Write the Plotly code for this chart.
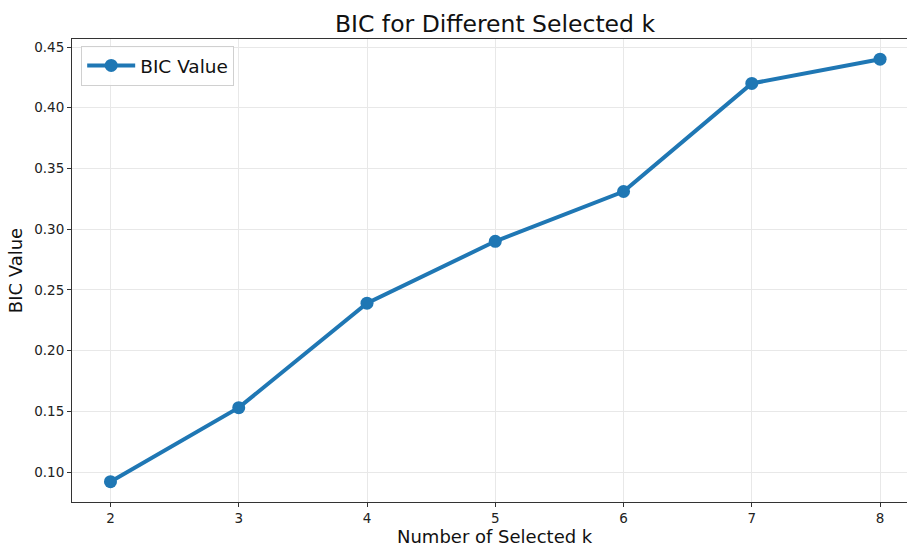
import plotly.graph_objects as go

k_values = [2, 3, 4, 5, 6, 7, 8]
bic_values = [0.092, 0.153, 0.239, 0.290, 0.331, 0.420, 0.440]
y_ticks = [0.10, 0.15, 0.20, 0.25, 0.30, 0.35, 0.40, 0.45]

fig = go.Figure()
fig.add_trace(go.Scatter(
    x=k_values, y=bic_values, mode="lines+markers", name="BIC Value",
    line=dict(color="#1f77b4", width=4),
    marker=dict(color="#1f77b4", size=13),
))

font = "DejaVu Sans, Liberation Sans, sans-serif"
fig.update_layout(
    width=908, height=544,
    margin=dict(l=72, r=1, t=39, b=42, autoexpand=False),
    paper_bgcolor="white", plot_bgcolor="white",
    font=dict(family=font, color="#222"),
    title=dict(text="BIC for Different Selected k", x=495/908, xanchor="center",
               y=1-24/544, yanchor="middle", font=dict(size=23.5, color="#111")),
    showlegend=True,
    legend=dict(x=0.011, y=0.985, xanchor="left", yanchor="top",
                bgcolor="rgba(255,255,255,0.8)", bordercolor="#d0d0d0", borderwidth=1,
                itemwidth=48, font=dict(size=18.5, color="#111")),
)
fig.add_annotation(text="Number of Selected k", xref="paper", yref="paper",
                   x=(495-72)/835, y=-(536-502)/463, xanchor="center", yanchor="middle",
                   showarrow=False, borderpad=0, font=dict(size=18, color="#111"))
fig.update_xaxes(
    range=[1.7, 8.21], tickvals=k_values, ticktext=[str(k) for k in k_values],
    showgrid=True, gridcolor="#e8e8e8", gridwidth=1,
    showline=True, linecolor="#333", linewidth=1, mirror=True,
    ticks="outside", ticklen=4, tickcolor="#333",
    tickfont=dict(size=13.5, color="#222"), automargin=False,
    zeroline=False,
)
fig.update_yaxes(
    range=[0.0753, 0.4566], tickvals=y_ticks, ticktext=[f"{v:.2f}" for v in y_ticks],
    showgrid=True, gridcolor="#e8e8e8", gridwidth=1,
    showline=True, linecolor="#333", linewidth=1,
    ticks="outside", ticklen=4, tickcolor="#333",
    tickfont=dict(size=13.5, color="#222"), automargin=False,
    title=dict(text="BIC Value", font=dict(size=18, color="#111"), standoff=6),
    zeroline=False,
)
fig.write_html("out.html", config={"displayModeBar": False},
               post_script="document.body.style.margin='0';document.body.style.overflow='hidden';")
